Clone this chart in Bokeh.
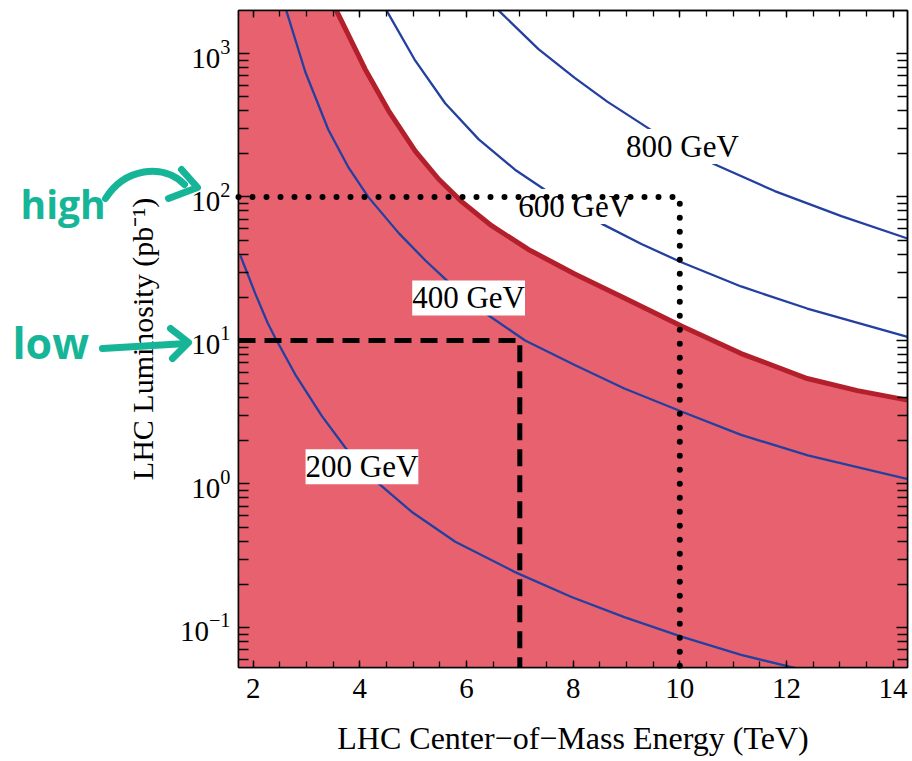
from bokeh.plotting import figure
from bokeh.models import (LinearAxis, FixedTicker, Label, Range1d, CustomJSTickFormatter)
from bokeh.core.properties import value
from bokeh.embed import file_html
from bokeh.resources import INLINE

# ---------------- data ----------------
energy_200 = [1.76, 2.04, 2.27, 2.41, 2.79, 3.29, 3.73, 4.35, 4.97, 5.79, 6.91, 7.97, 8.96, 10.03, 11.15, 12.28]
lumi_200 = [39.1, 21.2, 13.3, 10.5, 5.79, 2.97, 1.79, 1.01, 0.641, 0.396, 0.243, 0.163, 0.118, 0.0863, 0.0644, 0.0509]

energy_400 = [2.62, 2.98, 3.41, 3.79, 4.16, 4.73, 5.23, 5.66, 6.43, 7.10, 8.03, 8.96, 10.03, 11.15, 12.40, 14.28]
lumi_400 = [2000, 740, 294, 160, 99.8, 56.0, 36.1, 25.6, 14.8, 10.0, 6.75, 4.63, 3.20, 2.20, 1.58, 1.08]

energy_600 = [4.50, 5.04, 5.60, 6.23, 6.91, 7.54, 8.55, 9.28, 10.03, 11.15, 12.39, 14.27]
lumi_600 = [2000, 891, 450, 252, 155, 108, 64.7, 47.0, 35.1, 23.8, 16.7, 10.6]

energy_800 = [6.60, 7.35, 8.03, 8.64, 9.53, 10.65, 11.78, 13.03, 14.27]
lumi_800 = [2000, 1072, 676, 462, 282, 169, 110, 73.5, 51.4]

energy_limit = [3.56, 4.10, 4.54, 5.04, 5.48, 5.91, 6.47, 7.16, 8.03, 8.96, 10.03, 11.15, 12.39, 13.33, 14.27]
lumi_limit = [2000, 778, 399, 209, 133, 92.9, 63.1, 43.1, 29.1, 19.8, 12.6, 8.11, 5.43, 4.47, 3.84]

curve_labels = ["200 GeV", "400 GeV", "600 GeV", "800 GeV"]
label_energy = [4.04, 6.04, 8.03, 10.05]
label_lumi = [1.32, 19.8, 85.9, 225]

scenario_names = ["low", "high"]
scenario_energy = [7, 10]
scenario_lumi = [10, 100]

x_major = [2, 4, 6, 8, 10, 12, 14]
x_minor = [1.5 + 0.5 * i for i in range(27)]
y_major = [0.1, 1, 10, 100, 1000]
y_minor = [k * 10.0 ** e for e in range(-2, 4) for k in range(2, 10)]

X0, X1 = 1.725, 14.27
Y0, Y1 = 0.0526, 1994.0

FILL = "#E8616F"
LIMIT = "#B3202B"
BLUE = "#2340A0"
TEAL = "#17B597"
SERIF = "Liberation Serif"
W, H = 912, 761

p = figure(width=W, height=H, y_axis_type="log",
           x_range=Range1d(X0, X1), y_range=Range1d(Y0, Y1),
           output_backend="svg", toolbar_location=None,
           min_border_left=238, min_border_right=5, min_border_top=10, min_border_bottom=94)
p.grid.visible = False
p.outline_line_color = "black"
p.outline_line_width = 1.5
p.background_fill_color = "white"
p.border_fill_color = "white"

bottom_ax = p.xaxis[0]
left_ax = p.yaxis[0]

# excluded (red) region below the limit curve
fill_x = [X0] + energy_limit + [X1, X0]
fill_y = [Y1] + lumi_limit + [Y0, Y0]
p.patch(fill_x, fill_y, fill_color=FILL, line_color=None)
p.line(energy_limit, lumi_limit, line_color=LIMIT, line_width=5)

for ex, ly in [(energy_200, lumi_200), (energy_400, lumi_400),
               (energy_600, lumi_600), (energy_800, lumi_800)]:
    p.line(ex, ly, line_color=BLUE, line_width=2.3)

for t, ex, ly in zip(curve_labels, label_energy, label_lumi):
    p.add_layout(Label(x=ex, y=ly, text=t, text_font=SERIF, text_font_size="31px",
                       text_align="center", text_baseline="middle", text_color="black",
                       background_fill_color="white"))

# scenario guide lines
lo_e, hi_e = scenario_energy
lo_l, hi_l = scenario_lumi
r1 = p.line([X0, lo_e, lo_e], [lo_l, lo_l, Y0], line_color="black", line_width=5, line_dash="17 9")
r2 = p.line([X0, hi_e, hi_e], [hi_l, hi_l, Y0], line_color="black", line_width=6,
            line_dash="0 14", line_cap="round")
r1.level = "overlay"
r2.level = "overlay"

# axes
xt = FixedTicker(ticks=x_major, minor_ticks=x_minor)
yt = FixedTicker(ticks=y_major, minor_ticks=y_minor)
bottom_ax.ticker = xt
left_ax.ticker = yt
blank = CustomJSTickFormatter(code="return ' ';")
top = LinearAxis(ticker=xt, formatter=blank, major_label_text_font_size="2px",
                 major_label_standoff=0, major_label_text_color=None)
right = LinearAxis(ticker=yt, formatter=blank, major_label_text_font_size="2px",
                   major_label_standoff=0, major_label_text_color=None)
p.add_layout(top, "above")
p.add_layout(right, "right")

for ax in [bottom_ax, top]:
    ax.major_tick_in = 7
    ax.minor_tick_in = 6
for ax in [left_ax, right]:
    ax.major_tick_in = 11
    ax.minor_tick_in = 10
for ax in [bottom_ax, left_ax, top, right]:
    ax.major_tick_out = 0
    ax.minor_tick_out = 0
    ax.axis_line_width = 1.5
    ax.axis_line_color = "black"
    ax.major_tick_line_width = 1.3
    ax.minor_tick_line_width = 1.3
    ax.major_tick_line_color = "black"
    ax.minor_tick_line_color = "black"

for ax in [bottom_ax, left_ax]:
    ax.major_label_text_font = SERIF
    ax.major_label_text_font_size = "29px"
    ax.major_label_text_color = "black"
    ax.axis_label_text_font = SERIF
    ax.axis_label_text_font_style = "normal"
    ax.axis_label_text_color = "black"

bottom_ax.axis_label = "LHC Center\u2212of\u2212Mass Energy (TeV)"
bottom_ax.axis_label_text_font_size = "32px"
bottom_ax.major_label_standoff = 11
bottom_ax.axis_label_standoff = 19
left_ax.axis_label = "LHC Luminosity (pb\u207b\u00b9)"
left_ax.axis_label_text_font_size = "30px"
left_ax.major_label_standoff = 8
left_ax.axis_label_standoff = 18

# ---------------- handwritten notes: transparent overlay in page pixels ----------------
q = figure(width=W, height=H, x_range=Range1d(0, W), y_range=Range1d(H, 0),
           output_backend="svg", toolbar_location=None,
           x_axis_location=None, y_axis_location=None,
           min_border=0, min_border_left=0, min_border_right=0, min_border_top=0, min_border_bottom=0,
           background_fill_color=None, border_fill_color=None, outline_line_color=None,
           styles={"position": "absolute", "left": "0px", "top": "0px"})
q.grid.visible = False

q.text(x=[20], y=[203], text=[scenario_names[1]],
       text_font=value("Open Sans"), text_font_size="39px", text_font_style="bold",
       text_color=TEAL, text_align="left", text_baseline="alphabetic")
q.text(x=[12], y=[342], text=[scenario_names[0]],
       text_font=value("Open Sans"), text_font_size="43px", text_font_style="bold",
       text_color=TEAL, text_align="left", text_baseline="alphabetic")
pen = dict(line_color=TEAL, line_width=7, line_cap="round", line_join="round")
# curved "high" arrow
q.bezier(x0=[105], y0=[198], x1=[184], y1=[184], cx0=[124], cy0=[168], cx1=[162], cy1=[162], **pen)
q.multi_line(xs=[[181, 197, 168]], ys=[[169, 187, 198]], **pen)
# straight "low" arrow
q.multi_line(xs=[[102, 186]], ys=[[348, 343]], **pen)
q.multi_line(xs=[[170, 188, 172]], ys=[[328, 342, 358]], **pen)

open("out.html", "w").write(file_html([p, q], INLINE))
